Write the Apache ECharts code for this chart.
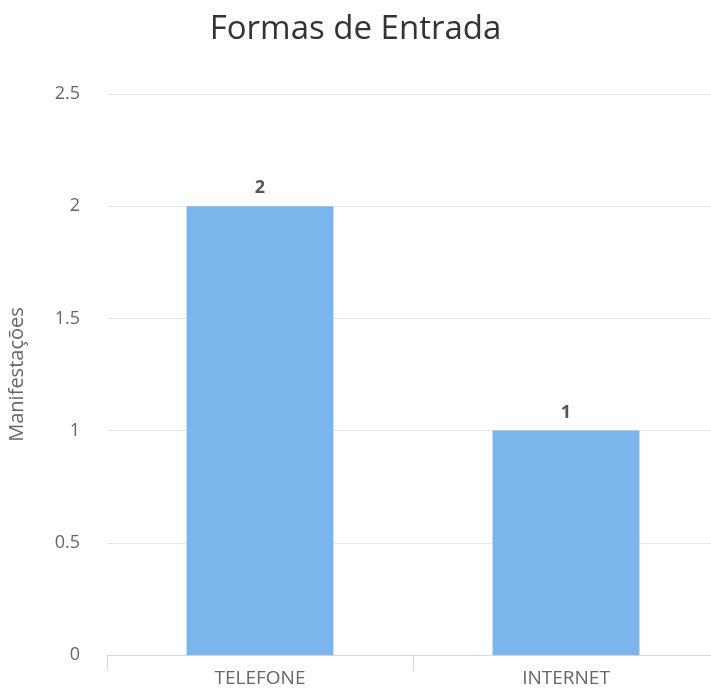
<!DOCTYPE html>
<html><head><meta charset="utf-8">
<script src="https://cdn.jsdelivr.net/npm/echarts@6/dist/echarts.min.js"></script>
<style>html,body{margin:0;padding:0;background:#fff;overflow:hidden}#c{width:711px;height:689px}</style>
</head><body><div id="c"></div>
<script>
const categories = ["TELEFONE", "INTERNET"];
const values = [2, 1];
const yTicks = [0, 0.5, 1, 1.5, 2, 2.5];

const chart = echarts.init(document.getElementById('c'), null, {renderer: 'canvas'});
chart.setOption({
  animation: false,
  title: {
    text: 'Formas de Entrada', left: 'center', top: 8,
    textStyle: {fontFamily: 'Open Sans', fontSize: 33, fontWeight: 'normal', color: '#333333'}
  },
  grid: {left: 107, width: 612, top: 94, bottom: 34, containLabel: false, outerBoundsMode: 'none'},
  xAxis: {
    type: 'category', data: categories,
    axisLine: {lineStyle: {color: '#ccd6eb'}},
    axisTick: {show: true, length: 16, lineStyle: {color: '#ccd6eb'}},
    axisLabel: {color: '#666666', fontFamily: 'Open Sans', fontSize: 19, margin: 14}
  },
  yAxis: {
    type: 'value', min: yTicks[0], max: yTicks[yTicks.length - 1], interval: 0.5,
    name: 'Manifestações', nameLocation: 'middle', nameGap: 80, nameRotate: 90,
    nameTextStyle: {color: '#666666', fontFamily: 'Open Sans', fontSize: 20},
    axisLine: {show: false}, axisTick: {show: false},
    splitLine: {lineStyle: {color: '#e6e6e6'}},
    axisLabel: {color: '#666666', fontFamily: 'Open Sans', fontSize: 18, margin: 27}
  },
  series: [{
    type: 'bar', data: values, barWidth: '48%',
    itemStyle: {color: '#7cb5ec'},
    label: {show: true, position: 'top', distance: 9, color: '#555555', fontWeight: 'bold',
            fontFamily: 'Open Sans', fontSize: 18}
  }]
});
</script></body></html>
